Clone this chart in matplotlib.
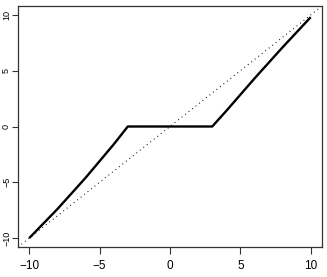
import numpy as np
import matplotlib
matplotlib.use("Agg")
import matplotlib.pyplot as plt

plt.rcParams['font.family'] = ['Liberation Sans', 'DejaVu Sans']

# thresholded curve
x_vals = [-10, -8, -6, -4, -3, 3, 4, 6, 8, 10]
y_vals = [-10, -7.4, -4.6, -1.6, 0, 0, 1.4, 4.3, 7.1, 9.8]
ticks = [-10, -5, 0, 5, 10]
tick_labels = ['\u221210', '\u22125', '0', '5', '10']

fig = plt.figure(figsize=(3.27, 2.77), dpi=100)
ax = fig.add_axes([18 / 327, 30 / 277, 304 / 327, 241 / 277])

ax.plot(x_vals, y_vals, color='black', lw=1.7, solid_capstyle='butt')
ax.axline((0, 0), slope=1, color='black', lw=0.8, linestyle=(0, (0.8, 3.2)))

ax.set_xlim(-10.8, 10.8)
ax.set_ylim(-10.8, 10.8)
ax.set_xticks(ticks)
ax.set_yticks(ticks)
ax.set_xticklabels(tick_labels)
ax.set_yticklabels(tick_labels, rotation=90, va='center')

for s in ax.spines.values():
    s.set_color('#333333')
    s.set_linewidth(0.9)
ax.tick_params(direction='out', width=0.8, color='#333333')
ax.tick_params(axis='x', length=5.2, labelsize=8.5, pad=4.0)
ax.tick_params(axis='y', length=4.0, labelsize=6.5, pad=1.0)

fig.savefig('out.png', dpi=100)
